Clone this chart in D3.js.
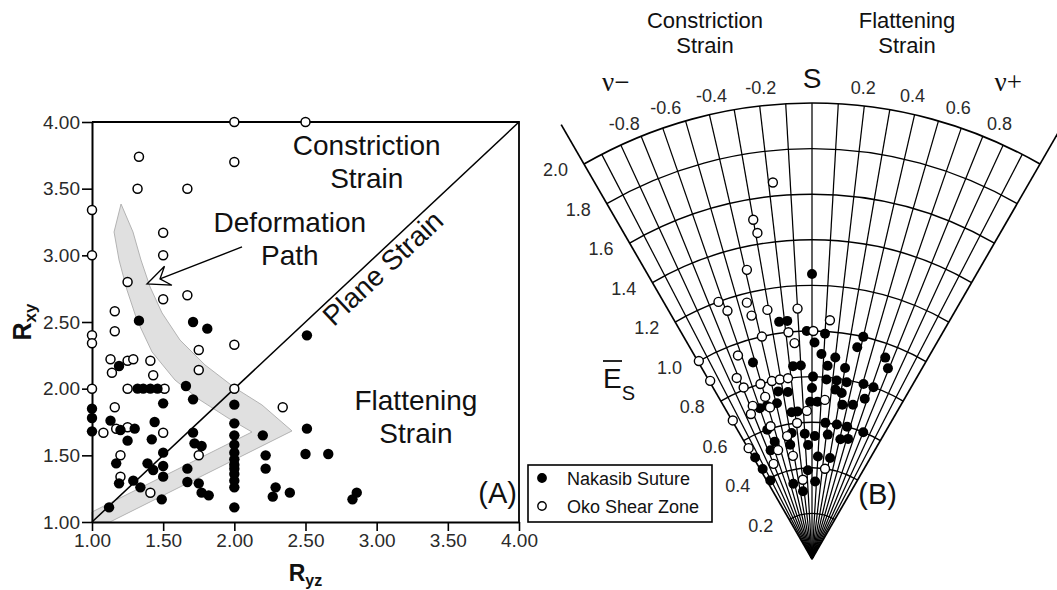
<!DOCTYPE html>
<html>
<head>
<meta charset="utf-8">
<script src="https://cdn.jsdelivr.net/npm/d3@7"></script>
<style>
  html, body { margin: 0; padding: 0; background: #fff; }
  svg { display: block; font-family: "Liberation Sans", Arial, sans-serif; }
</style>
</head>
<body>
<svg id="chart" width="1057" height="590"></svg>
<script>
/* global d3 */

// ---- panel A : Flinn plot (Ryz, Rxy) ----
const FLINN_TICKS = [1, 1.5, 2, 2.5, 3, 3.5, 4];

const NAKASIB_FLINN = [
  [1.33, 2.51], [1.71, 2.50], [1.81, 2.45], [1.19, 2.17], [1.32, 2.0], [1.36, 2.0], [1.41, 2.0],
  [1.46, 2.0], [1.66, 2.02], [1.50, 1.89], [1.71, 1.92], [1.0, 1.85], [1.0, 1.78], [1.0, 1.68],
  [1.13, 1.76], [1.20, 1.69], [1.30, 1.70], [1.25, 1.61], [1.44, 1.75], [1.42, 1.62], [1.50, 1.52],
  [1.50, 1.42], [1.50, 1.34], [1.39, 1.44], [1.43, 1.39], [1.17, 1.44], [1.19, 1.29], [1.29, 1.31],
  [1.34, 1.26], [1.49, 1.17], [1.12, 1.11], [1.71, 1.67], [1.72, 1.59], [1.77, 1.57], [1.67, 1.40],
  [1.67, 1.30], [1.75, 1.29], [1.77, 1.22], [1.82, 1.20],
  [2.0, 1.88], [2.0, 1.74], [2.0, 1.65], [2.0, 1.58], [2.0, 1.52], [2.0, 1.47], [2.0, 1.43],
  [2.0, 1.40], [2.0, 1.36], [2.0, 1.31], [2.0, 1.26], [2.0, 1.11],
  [2.20, 1.65], [2.22, 1.50], [2.22, 1.40], [2.51, 2.40], [2.51, 1.70], [2.50, 1.51], [2.66, 1.51],
  [2.29, 1.26], [2.27, 1.19], [2.39, 1.22], [2.83, 1.17], [2.86, 1.22],
];

const OKO_FLINN = [
  [2.0, 4.0], [2.5, 4.0], [1.33, 3.74], [2.0, 3.70], [1.32, 3.50], [1.67, 3.50], [1.0, 3.34],
  [1.5, 3.17], [1.5, 3.0], [1.0, 3.0], [1.25, 2.80], [1.5, 2.67], [1.67, 2.70], [1.16, 2.58],
  [1.0, 2.40], [1.0, 2.34], [1.16, 2.43], [2.0, 2.33], [1.13, 2.22], [1.14, 2.12], [1.25, 2.21],
  [1.29, 2.22], [1.41, 2.21], [1.43, 2.10], [1.75, 2.29], [1.75, 2.14], [1.0, 2.0], [1.25, 2.0],
  [1.51, 2.0], [2.0, 2.0], [1.16, 1.86], [1.08, 1.67], [1.17, 1.70], [1.25, 1.71], [1.50, 1.67],
  [1.20, 1.50], [1.20, 1.34], [1.41, 1.22], [1.75, 1.50], [2.34, 1.86],
];

// grey deformation path band (outline, in Ryz / Rxy units)
const DEFORMATION_BAND = [
  [1.204, 3.385], [1.288, 3.175], [1.344, 2.965], [1.408, 2.763], [1.492, 2.568], [1.618, 2.365],
  [1.794, 2.178], [2.005, 2.005], [2.194, 1.878], [2.405, 1.683], [1.126, 1.0], [1.0, 1.0],
  [1.0, 1.075], [2.124, 1.675], [1.956, 1.78], [1.759, 1.915], [1.583, 2.065], [1.422, 2.275],
  [1.316, 2.515], [1.246, 2.74], [1.19, 2.965], [1.155, 3.175],
];
const DEFORMATION_ARROW = { from: [2.054, 3.063], to: [1.386, 2.785] };

// ---- panel B : Hsu plot (Lode nu, natural octahedral strain Es) ----
const LODE_GRID = d3.range(-10, 11).map((i) => i / 10);
const ES_ARCS = d3.range(1, 11).map((i) => i / 5);
const LODE_TICKS = [-0.8, -0.6, -0.4, -0.2, 0.2, 0.4, 0.6, 0.8];

const NAKASIB_HSU = [
  [0.00, 1.25], [-0.24, 1.05], [-0.18, 1.05], [-0.04, 1.00], [0.10, 0.99], [0.02, 0.95], [0.08, 0.90],
  [0.20, 0.89], [0.14, 0.85], [0.30, 0.85], [0.40, 1.00], [0.37, 0.95], [0.63, 0.94], [0.69, 0.90],
  [-0.17, 0.85], [-0.10, 0.85], [0.01, 0.80], [0.14, 0.79], [0.24, 0.79], [0.34, 0.79], [0.51, 0.80],
  [0.62, 0.80], [-0.52, 0.90], [-0.35, 0.75], [-0.25, 0.74], [0.00, 0.75], [0.24, 0.75], [0.31, 0.74],
  [0.57, 0.74], [-0.02, 0.69], [0.06, 0.69], [0.34, 0.69], [0.46, 0.70], [-0.60, 0.70], [-0.51, 0.70],
  [-0.39, 0.70], [-0.24, 0.65], [-0.17, 0.65], [0.17, 0.60], [0.32, 0.60], [0.46, 0.60], [0.70, 0.60],
  [-0.60, 0.60], [-0.55, 0.54], [-0.33, 0.51], [-0.10, 0.55], [0.04, 0.54], [0.22, 0.55], [0.41, 0.54],
  [0.52, 0.55], [-0.28, 0.56], [-0.06, 0.50], [0.10, 0.45], [0.31, 0.45], [-0.08, 0.39], [0.07, 0.34],
  [-0.43, 0.34], [-0.23, 0.30], [-0.66, 0.51], [-0.97, 0.51], [-0.95, 0.45], [-0.92, 0.39],
];

const OKO_HSU = [
  [-0.18, 1.66], [-0.30, 1.51], [-0.29, 1.45], [-0.39, 1.30], [-0.63, 1.20], [-0.59, 1.15], [-0.44, 1.16],
  [-0.43, 1.10], [-0.31, 1.11], [-0.10, 1.10], [0.13, 1.05], [-0.18, 1.00], [0.01, 1.00], [-0.39, 1.00],
  [-0.14, 0.95], [-0.63, 0.95], [-0.99, 1.00], [-0.99, 0.90], [-0.72, 0.86], [-0.69, 0.81], [-0.51, 0.80],
  [-0.39, 0.80], [-0.31, 0.80], [-0.23, 0.80], [-0.50, 0.74], [-0.67, 0.72], [-0.48, 0.69], [-0.73, 0.69],
  [-0.99, 0.70], [-0.54, 0.61], [-0.35, 0.55], [-0.99, 0.56], [-0.54, 0.50], [-0.70, 0.45], [0.14, 0.70],
  [-0.06, 0.65], [-0.19, 0.60], [-0.32, 0.46], [0.25, 0.40], [-0.20, 0.35],
];

const SERIES = [
  { name: "Nakasib Suture", fill: "#000" },
  { name: "Oko Shear Zone", fill: "#fff" },
];

const TEXT = "#111";
const svg = d3.select("#chart");

// plain hyphen for negative numbers, as in the printed figure
const fmt1 = (d) => d3.format(".1f")(d).replace("−", "-");

function drawFlinn() {
  const x = d3.scaleLinear().domain([1, 4]).range([92, 519]);
  const y = d3.scaleLinear().domain([1, 4]).range([522, 122]);
  const g = svg.append("g").attr("class", "flinn");

  g.append("path")
    .datum(DEFORMATION_BAND)
    .attr("d", d3.line().x((d) => x(d[0])).y((d) => y(d[1])).curve(d3.curveLinearClosed))
    .attr("fill", "#e0e0e0")
    .attr("stroke", "#b3b3b3")
    .attr("stroke-width", 1);

  // plane strain diagonal and frame
  g.append("line")
    .attr("x1", x(1)).attr("y1", y(1))
    .attr("x2", x(4)).attr("y2", y(4))
    .attr("stroke", "#000").attr("stroke-width", 1.5);

  g.append("path")
    .attr("d", `M${x(1)},${y(4)}H${x(4)}V${y(1)}`)
    .attr("fill", "none").attr("stroke", "#000").attr("stroke-width", 1.8);

  const fmt = d3.format(".2f");
  const yAxis = g.append("g")
    .attr("transform", `translate(${x(1)},0)`)
    .call(d3.axisLeft(y).tickValues(FLINN_TICKS).tickFormat(fmt).tickSize(10).tickSizeOuter(0).tickPadding(2));
  const xAxis = g.append("g")
    .attr("transform", `translate(0,${y(1)})`)
    .call(d3.axisBottom(x).tickValues(FLINN_TICKS).tickFormat(fmt).tickSize(9).tickSizeOuter(0).tickPadding(3));

  [xAxis, yAxis].forEach((axis) => {
    axis.select(".domain").attr("stroke", "#000").attr("stroke-width", 2);
    axis.selectAll(".tick line").attr("stroke", "#000").attr("stroke-width", 1.6);
    axis.selectAll(".tick text")
      .attr("fill", "#2a2a2a")
      .style("font-size", "19px")
      .style("font-family", "'Liberation Sans', Arial, sans-serif");
  });

  // axis titles
  g.append("text")
    .attr("transform", `translate(31,${(y(1) + y(4)) / 2}) rotate(-90)`)
    .attr("text-anchor", "middle")
    .attr("font-weight", "bold")
    .attr("font-size", 25)
    .attr("fill", TEXT)
    .call((t) => {
      t.append("tspan").text("R");
      t.append("tspan").attr("font-size", 17).attr("dy", 5).text("xy");
    });

  g.append("text")
    .attr("x", (x(1) + x(4)) / 2)
    .attr("y", 581)
    .attr("text-anchor", "middle")
    .attr("font-weight", "bold")
    .attr("font-size", 23)
    .attr("fill", TEXT)
    .call((t) => {
      t.append("tspan").text("R");
      t.append("tspan").attr("font-size", 16).attr("dy", 5).text("yz");
    });

  // region annotations
  const label = (lines, dx, dy, size) => {
    const t = g.append("text")
      .attr("text-anchor", "middle")
      .attr("font-size", size)
      .attr("fill", TEXT);
    lines.forEach((line, i) => {
      t.append("tspan").attr("x", x(dx)).attr("y", y(dy) + i * 33).text(line);
    });
    return t;
  };
  label(["Constriction", "Strain"], 2.93, 3.75, 28);
  label(["Deformation", "Path"], 2.39, 3.175, 28);
  label(["Flattening", "Strain"], 3.276, 1.84, 28);

  g.append("text")
    .attr("x", x(3.986)).attr("y", y(1.1425))
    .attr("text-anchor", "end")
    .attr("font-size", 29)
    .attr("fill", TEXT)
    .text("(A)");

  // "Plane Strain" along the diagonal, just below it
  const angle = (Math.atan2(y(4) - y(1), x(4) - x(1)) * 180) / Math.PI;
  const px = x(2.98) + 9;
  const py = y(2.98) + 10;
  g.append("text")
    .attr("transform", `translate(${px},${py}) rotate(${angle})`)
    .attr("text-anchor", "middle")
    .attr("dy", "0.35em")
    .attr("font-size", 28)
    .attr("fill", TEXT)
    .text("Plane Strain");

  // arrow from label to band
  const ax0 = x(DEFORMATION_ARROW.from[0]);
  const ay0 = y(DEFORMATION_ARROW.from[1]);
  const ax1 = x(DEFORMATION_ARROW.to[0]);
  const ay1 = y(DEFORMATION_ARROW.to[1]);
  const dir = Math.atan2(ay0 - ay1, ax0 - ax1);
  const wing = (a, len) => [ax1 + len * Math.cos(dir + a), ay1 + len * Math.sin(dir + a)];
  const notch = wing(0, 14);
  g.append("line")
    .attr("x1", ax0).attr("y1", ay0).attr("x2", notch[0]).attr("y2", notch[1])
    .attr("stroke", "#000").attr("stroke-width", 1.4);
  g.append("path")
    .attr("d", d3.line()([[ax1, ay1], wing(-0.42, 25), notch, wing(0.42, 25)]) + "Z")
    .attr("fill", "#fff").attr("stroke", "#000").attr("stroke-width", 1.3);

  // points
  g.append("g").selectAll("circle")
    .data(OKO_FLINN)
    .join("circle")
    .attr("cx", (d) => x(d[0])).attr("cy", (d) => y(d[1]))
    .attr("r", 4.5)
    .attr("fill", "#fff").attr("stroke", "#000").attr("stroke-width", 1.5);

  g.append("g").selectAll("circle")
    .data(NAKASIB_FLINN)
    .join("circle")
    .attr("cx", (d) => x(d[0])).attr("cy", (d) => y(d[1]))
    .attr("r", 5.2)
    .attr("fill", "#000");
}

function drawHsu() {
  const cx = 812;
  const cy = 559;
  const r = d3.scaleLinear().domain([0, 2]).range([0, 456]);
  const theta = (nu) => Math.atan(nu / Math.sqrt(3));
  const at = (angle, es) => [cx + r(es) * Math.sin(angle), cy - r(es) * Math.cos(angle)];
  const polar = (nu, es) => at(theta(nu), es);
  const edge = Math.PI / 6;

  const g = svg.append("g").attr("class", "hsu");

  // radial Lode lines
  g.append("g").selectAll("line")
    .data(LODE_GRID)
    .join("line")
    .attr("x1", cx).attr("y1", cy)
    .attr("x2", (d) => polar(d, Math.abs(d) > 0.99 ? 2.2 : 2)[0])
    .attr("y2", (d) => polar(d, Math.abs(d) > 0.99 ? 2.2 : 2)[1])
    .attr("stroke", "#000")
    .attr("stroke-width", (d) => (Math.abs(d) > 0.99 ? 1.7 : 1.25));

  // Es arcs
  g.append("g").selectAll("path")
    .data(ES_ARCS)
    .join("path")
    .attr("d", (d) => {
      const p = d3.path();
      p.arc(cx, cy, r(d), -Math.PI / 2 - edge, -Math.PI / 2 + edge);
      return p.toString();
    })
    .attr("fill", "none")
    .attr("stroke", "#000")
    .attr("stroke-width", (d) => (d === 2 ? 1.7 : 1.4));

  // Es tick labels along the left edge
  g.append("g").selectAll("text")
    .data(ES_ARCS)
    .join("text")
    .attr("x", (d) => polar(-1, d)[0] - 16)
    .attr("y", (d) => polar(-1, d)[1] + 12)
    .attr("text-anchor", "end")
    .attr("font-size", 18)
    .attr("fill", "#2a2a2a")
    .text(fmt1);

  // Lode tick labels above the outer arc
  g.append("g").selectAll("text")
    .data(LODE_TICKS)
    .join("text")
    .attr("x", (d) => at(theta(d) * 0.94, 2.08)[0])
    .attr("y", (d) => at(theta(d) * 0.94, 2.08)[1])
    .attr("dy", "0.35em")
    .attr("text-anchor", "middle")
    .attr("font-size", 18)
    .attr("fill", "#2a2a2a")
    .text(fmt1);

  const s = at(0, 2.11);
  g.append("text")
    .attr("x", s[0]).attr("y", s[1]).attr("dy", "0.35em")
    .attr("text-anchor", "middle")
    .attr("font-size", 28)
    .attr("fill", TEXT)
    .text("S");

  [["ν−", -0.39], ["ν+", 0.39]].forEach(([txt, a]) => {
    const p = at(a, 2.263);
    g.append("text")
      .attr("x", p[0]).attr("y", p[1]).attr("dy", "0.35em")
      .attr("text-anchor", "middle")
      .attr("font-family", "'Liberation Serif', 'Times New Roman', serif")
      .attr("font-size", 27)
      .attr("fill", TEXT)
      .text(txt);
  });

  // headings
  [["Constriction", "Strain", 705], ["Flattening", "Strain", 907]].forEach(([a, b, hx]) => {
    const t = g.append("text").attr("text-anchor", "middle").attr("font-size", 22).attr("fill", TEXT);
    t.append("tspan").attr("x", hx).attr("y", 28).text(a);
    t.append("tspan").attr("x", hx).attr("y", 53).text(b);
  });

  // E-bar subscript S
  const es = g.append("text").attr("x", 603).attr("y", 388).attr("font-size", 28).attr("fill", TEXT);
  es.append("tspan").text("E");
  es.append("tspan").attr("font-size", 20).attr("dy", 12).text("S");
  g.append("line")
    .attr("x1", 603).attr("x2", 622).attr("y1", 361).attr("y2", 361)
    .attr("stroke", TEXT).attr("stroke-width", 1.8);

  g.append("text")
    .attr("x", 897).attr("y", 504)
    .attr("text-anchor", "end")
    .attr("font-size", 29)
    .attr("fill", TEXT)
    .text("(B)");

  // points
  g.append("g").selectAll("circle")
    .data(NAKASIB_HSU)
    .join("circle")
    .attr("cx", (d) => polar(d[0], d[1])[0])
    .attr("cy", (d) => polar(d[0], d[1])[1])
    .attr("r", 5)
    .attr("fill", "#000");

  g.append("g").selectAll("circle")
    .data(OKO_HSU)
    .join("circle")
    .attr("cx", (d) => polar(d[0], d[1])[0])
    .attr("cy", (d) => polar(d[0], d[1])[1])
    .attr("r", 4.5)
    .attr("fill", "#fff").attr("stroke", "#000").attr("stroke-width", 1.4);
}

function drawLegend() {
  const g = svg.append("g").attr("transform", "translate(528,465)");
  g.append("rect")
    .attr("width", 184).attr("height", 57)
    .attr("fill", "#fff").attr("stroke", "#000").attr("stroke-width", 1.6);

  const row = g.selectAll("g.row")
    .data(SERIES)
    .join("g")
    .attr("class", "row")
    .attr("transform", (d, i) => `translate(0,${13 + i * 28})`);

  row.append("circle")
    .attr("cx", 14).attr("cy", 0).attr("r", 4.2)
    .attr("fill", (d) => d.fill).attr("stroke", "#000").attr("stroke-width", 1.4);

  row.append("text")
    .attr("x", 39).attr("y", 7)
    .attr("font-size", 18)
    .attr("fill", TEXT)
    .text((d) => d.name);
}

drawFlinn();
drawHsu();
drawLegend();
</script>
</body>
</html>
